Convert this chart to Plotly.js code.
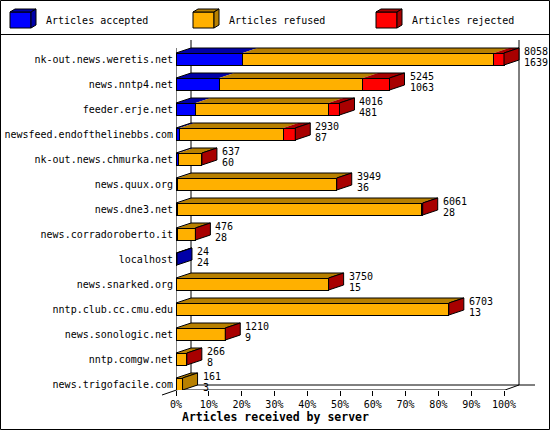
<!DOCTYPE html>
<html>
<head>
<meta charset="utf-8">
<script src="https://cdn.plot.ly/plotly-3.0.1.min.js"></script>
<style>
  html, body { margin: 0; padding: 0; background: #fff; }
  #graph { width: 550px; height: 430px; }
</style>
</head>
<body>
<div id="graph"></div>
<script>
// servers, top to bottom
const servers = [
    'nk-out.news.weretis.net', 'news.nntp4.net', 'feeder.erje.net',
    'newsfeed.endofthelinebbs.com', 'nk-out.news.chmurka.net', 'news.quux.org',
    'news.dne3.net', 'news.corradoroberto.it', 'localhost', 'news.snarked.org',
    'nntp.club.cc.cmu.edu', 'news.sonologic.net', 'nntp.comgw.net', 'news.trigofacile.com'
];
const totals   = [8058, 5245, 4016, 2930, 637, 3949, 6061, 476, 24, 3750, 6703, 1210, 266, 161];
const accepted = [1639, 1063, 481, 87, 60, 36, 28, 28, 24, 15, 13, 9, 8, 3];
const refused  = [6173, 3530, 3260, 2548, 567, 3898, 5993, 443, 0, 3725, 6680, 1196, 255, 158];
const rejected = [246, 652, 275, 295, 10, 15, 40, 5, 0, 10, 10, 5, 3, 0];
const seriesNames = ['Articles accepted', 'Articles refused', 'Articles rejected'];
const pctTicks = [0, 10, 20, 30, 40, 50, 60, 70, 80, 90, 100];

const front = ['#0000ff', '#ffb000', '#ff0000'];
const dark  = ['#0000a8', '#b88000', '#a80000'];
const mono = 'DejaVu Sans Mono';

// page geometry (pixels)
const L = 176, R = 548, T = 36, B = 390;
const full = 328;           // pixels for 100%
const rowPx = 25, firstRow = 59;
const maxTotal = Math.max(...totals);

// pixel -> data / paper helpers
const X = px => (px - L) * maxTotal / full;
const Y = py => (py - firstRow) / rowPx;
const PX = px => (px - L) / (R - L);
const PY = py => (B - py) / (B - T);

const DX = X(L + 15);       // depth offset
const DY = 5 / rowPx;
const H = 6 / rowPx;        // half height of the front face

const segs = [accepted, refused, rejected];
const idx = servers.map((s, i) => i);

let data = segs.map((arr, k) => ({
    type: 'bar',
    orientation: 'h',
    y: idx,
    x: arr,
    width: 2 * H,
    name: seriesNames[k],
    marker: { color: front[k], line: { color: '#000', width: 1 } },
    hoverinfo: 'skip',
    showlegend: false
}));

let shapes = [];
const line = (x0, y0, x1, y1, ref) => ({
    type: 'line', xref: ref, yref: ref, x0: x0, y0: y0, x1: x1, y1: y1,
    line: { color: '#000', width: 1 }, layer: 'below'
});

// frame: walls and floor
shapes.push(line(X(191), Y(40), X(191), Y(385), 'x'));
shapes.push(line(X(519), Y(40), X(519), Y(385), 'x'));
shapes.push(line(X(191), Y(385), X(535), Y(385), 'x'));
shapes.push(line(X(176), Y(48), X(176), Y(390), 'x'));
shapes.push(line(X(176), Y(390), X(505), Y(390), 'x'));
shapes.push(line(X(505), Y(390), X(519), Y(385), 'x'));
shapes.push(line(PX(162), PY(395), PX(191), PY(385), 'paper'));
shapes.forEach(s => { if (s.xref === 'x') s.yref = 'y'; });

// 3D top and side faces of each bar
let annotations = [];
idx.forEach(i => {
    let y0 = i - H, y1 = i - H - DY;
    let start = 0, last = 0;
    segs.forEach((arr, k) => {
        let v = arr[i];
        if (v <= 0) return;
        let end = start + v;
        shapes.push({
            type: 'path', xref: 'x', yref: 'y', layer: 'above',
            path: `M${start},${y0} L${end},${y0} L${end + DX},${y1} L${start + DX},${y1} Z`,
            fillcolor: dark[k], line: { width: 0 }
        });
        start = end;
        last = k;
    });
    let tot = start;
    shapes.push({
        type: 'path', xref: 'x', yref: 'y', layer: 'above',
        path: `M0,${y0} L${DX},${y1} L${tot + DX},${y1} L${tot},${y0}`,
        fillcolor: 'rgba(0,0,0,0)', line: { color: '#000', width: 1 }
    });
    shapes.push({
        type: 'path', xref: 'x', yref: 'y', layer: 'above',
        path: `M${tot},${y0} L${tot + DX},${y1} L${tot + DX},${y1 + 2 * H} L${tot},${i + H} Z`,
        fillcolor: dark[last], line: { color: '#000', width: 1 }
    });

    annotations.push({
        x: tot + DX, y: i, xref: 'x', yref: 'y', xanchor: 'left', yanchor: 'middle',
        xshift: 3, yshift: 8, showarrow: false, text: String(totals[i]),
        font: { family: mono, size: 10, color: '#000' }
    });
    annotations.push({
        x: tot + DX, y: i, xref: 'x', yref: 'y', xanchor: 'left', yanchor: 'middle',
        xshift: 3, yshift: -3, showarrow: false, text: String(accepted[i]),
        font: { family: mono, size: 10, color: '#000' }
    });
});

// legend with small cubes
seriesNames.forEach((name, k) => {
    let x0 = 10 + 183 * k;
    shapes.push({
        type: 'rect', xref: 'paper', yref: 'paper',
        x0: PX(x0), x1: PX(x0 + 21), y0: PY(28), y1: PY(12),
        fillcolor: front[k], line: { color: '#000', width: 1 }
    });
    shapes.push({
        type: 'path', xref: 'paper', yref: 'paper',
        path: `M${PX(x0)},${PY(12)} L${PX(x0 + 5)},${PY(9)} L${PX(x0 + 26)},${PY(9)} L${PX(x0 + 21)},${PY(12)} Z`,
        fillcolor: dark[k], line: { color: '#000', width: 1 }
    });
    shapes.push({
        type: 'path', xref: 'paper', yref: 'paper',
        path: `M${PX(x0 + 21)},${PY(12)} L${PX(x0 + 26)},${PY(9)} L${PX(x0 + 26)},${PY(25)} L${PX(x0 + 21)},${PY(28)} Z`,
        fillcolor: dark[k], line: { color: '#000', width: 1 }
    });
    annotations.push({
        x: PX(x0 + 34), y: PY(20.5), xref: 'paper', yref: 'paper',
        xanchor: 'left', yanchor: 'middle', showarrow: false, text: name,
        font: { family: mono, size: 10, color: '#000' }
    });
});

// legend separator and outer border
shapes.push(line(PX(0), PY(34.5), PX(550), PY(34.5), 'paper'));
shapes.push({
    type: 'rect', xref: 'paper', yref: 'paper',
    x0: PX(0.5), x1: PX(549.5), y0: PY(429.5), y1: PY(0.5),
    line: { color: '#000', width: 1 }, fillcolor: 'rgba(0,0,0,0)'
});

// axis title
annotations.push({
    x: PX(180), y: PY(416.5), xref: 'paper', yref: 'paper',
    xanchor: 'left', yanchor: 'middle', showarrow: false,
    text: '<b>Articles received by server</b>',
    font: { family: mono, size: 11.5, color: '#000' }
});

let layout = {
    width: 550,
    height: 430,
    margin: { l: L, r: 550 - R, t: T, b: 430 - B, pad: 0 },
    paper_bgcolor: '#fff',
    plot_bgcolor: 'rgba(0,0,0,0)',
    barmode: 'stack',
    showlegend: false,
    xaxis: {
        range: [0, X(R)],
        tickvals: pctTicks.map(p => maxTotal * p / 100),
        ticktext: pctTicks.map(p => p + '%'),
        ticks: 'outside', ticklen: 5, tickcolor: '#000', tickwidth: 1,
        showgrid: false, zeroline: false, showline: false,
        tickfont: { family: mono, size: 10, color: '#000' }
    },
    yaxis: {
        range: [Y(B), Y(T)],
        tickvals: idx,
        ticktext: servers,
        ticks: '', showgrid: false, zeroline: false, showline: false,
        ticklabelstandoff: 2,
        tickfont: { family: mono, size: 10, color: '#000' }
    },
    shapes: shapes,
    annotations: annotations
};

Plotly.newPlot('graph', data, layout, { displayModeBar: false, staticPlot: true });
</script>
</body>
</html>
